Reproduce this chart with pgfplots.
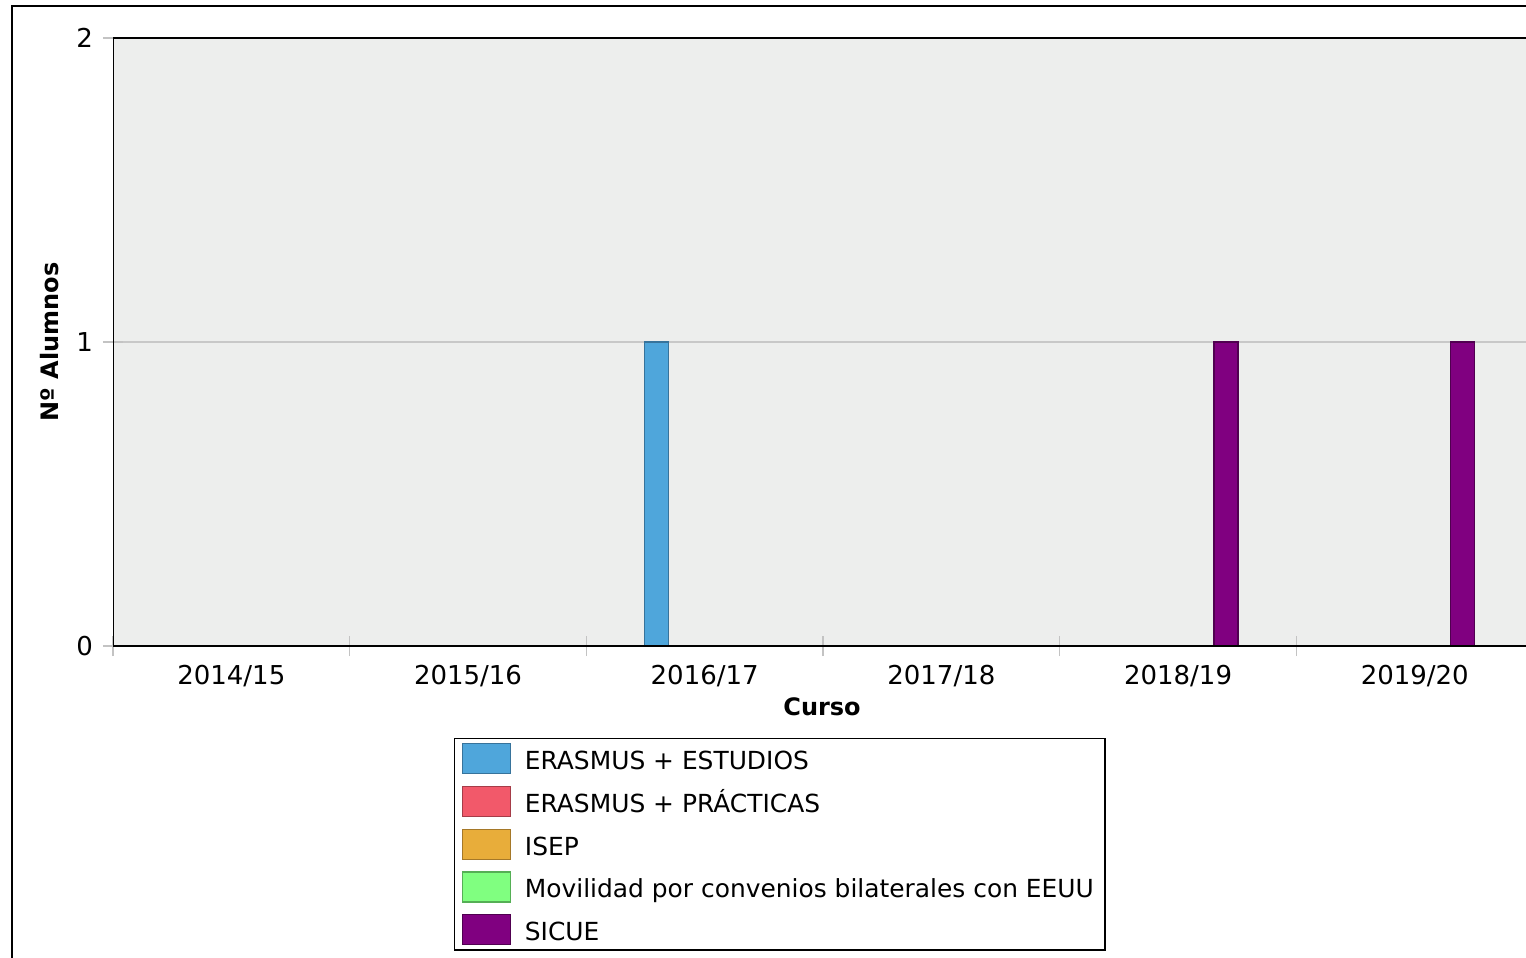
\documentclass[border=0pt]{standalone}
\usepackage{pgfplots}
\pgfplotsset{compat=1.18}
\usepackage{fontspec}
\setmainfont{DejaVu Sans}
\definecolor{bggray}{RGB}{237,238,237}
\definecolor{gridgray}{RGB}{200,200,200}
\definecolor{tickgray}{RGB}{195,195,195}
\definecolor{cA}{RGB}{79,166,219}
\definecolor{cAd}{RGB}{55,115,155}
\definecolor{cB}{RGB}{242,89,106}
\definecolor{cBd}{RGB}{165,60,72}
\definecolor{cC}{RGB}{232,173,58}
\definecolor{cCd}{RGB}{165,120,40}
\definecolor{cD}{RGB}{128,255,128}
\definecolor{cDd}{RGB}{85,175,85}
\definecolor{cE}{RGB}{128,0,128}
\definecolor{cEd}{RGB}{80,0,80}
\pgfplotsset{legsq/.style={legend image code/.code={\draw[##1] (0pt,-7.5pt) rectangle (24pt,7.5pt);}}}
\begin{document}
\begin{tikzpicture}
\useasboundingbox (-56.5pt,-156pt) rectangle (706.5pt,323pt);
\draw[line width=0.75pt] (-50.5pt,-160pt) -- (-50.5pt,320pt) -- (710pt,320pt);
\begin{axis}[
  at={(0pt,0pt)}, anchor=south west,
  width=706.5pt, height=304pt, scale only axis,
  ybar=0pt, bar width=12pt,
  xmin=-0.5, xmax=5.47, ymin=0, ymax=2,
  ytick={0,1,2},
  xtick={-0.5,0.5,1.5,2.5,3.5,4.5},
  xticklabels={},
  extra x ticks={0,1,2,3,4,5},
  extra x tick labels={2014/15,2015/16,2016/17,2017/18,2018/19,2019/20},
  extra x tick style={major tick length=0pt, grid=none},
  xtick pos=bottom, ytick pos=left,
  tick align=center, major tick length=10pt,
  tick style={color=tickgray, line width=0.75pt},
  ymajorgrids, grid style={color=gridgray, line width=0.75pt},
  axis line style={draw=none},
  axis background/.style={fill=bggray},
  ticklabel style={font=\fontsize{13}{15}\selectfont},
  xticklabel style={yshift=-6pt},
  yticklabel style={xshift=-1.5pt},
  /pgf/number format/assume math mode=true,
  xlabel={Curso}, ylabel={Nº Alumnos},
  every axis x label/.style={at={(axis description cs:0.5018,-0.1003)}, anchor=center, font=\fontsize{12}{14}\selectfont\bfseries},
  every axis y label/.style={at={(axis description cs:-0.0446,0.5)}, anchor=center, rotate=90, font=\fontsize{12}{14}\selectfont\bfseries},
  every axis plot/.append style={line width=0.6pt},
  legend style={at={(axis description cs:0.2413,-0.1513)}, anchor=north west,
    draw=black, line width=0.75pt, inner xsep=3.5pt, inner ysep=2.25pt,
    row sep=5.75pt, font=\fontsize{12.45}{14}\selectfont,
    nodes={inner ysep=0pt, inner xsep=2pt, anchor=west, text height=12pt, text depth=1pt},
    /tikz/every odd column/.append style={column sep=5pt}},
  legend cell align=left,
]
\addplot[fill=cA, draw=cAd, legsq] coordinates {(0,0) (1,0) (2,1) (3,0) (4,0) (5,0)};
\addplot[fill=cB, draw=cBd, legsq] coordinates {(0,0) (1,0) (2,0) (3,0) (4,0) (5,0)};
\addplot[fill=cC, draw=cCd, legsq] coordinates {(0,0) (1,0) (2,0) (3,0) (4,0) (5,0)};
\addplot[fill=cD, draw=cDd, legsq] coordinates {(0,0) (1,0) (2,0) (3,0) (4,0) (5,0)};
\addplot[fill=cE, draw=cEd, legsq] coordinates {(0,0) (1,0) (2,0) (3,0) (4,1) (5,1)};
\legend{ERASMUS + ESTUDIOS, ERASMUS + PRÁCTICAS, ISEP, Movilidad por convenios bilaterales con EEUU, SICUE}
\draw[line width=1pt] (rel axis cs:0,1) -- (rel axis cs:0,0) -- (rel axis cs:1,0);
\draw[line width=1pt] (rel axis cs:0,1) -- (rel axis cs:1,1);
\end{axis}
\end{tikzpicture}
\end{document}
